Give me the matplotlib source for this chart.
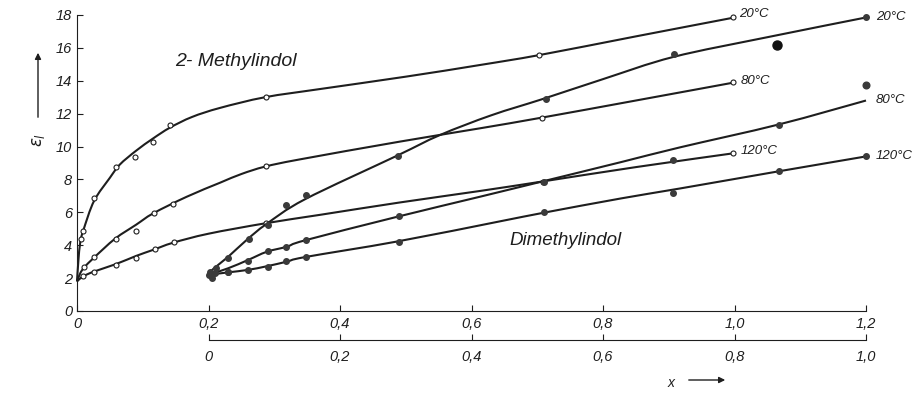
#!/usr/bin/env python3
import numpy as np
import matplotlib
matplotlib.use("Agg")
import matplotlib.pyplot as plt
from matplotlib.path import Path
from matplotlib.patches import PathPatch, FancyArrowPatch
from matplotlib.ticker import FuncFormatter

# 2-Methylindol (upper x axis), curves and open-circle measurements
m20_cx = [0, 0.002, 0.005, 0.01, 0.026, 0.05, 0.065, 0.09, 0.116, 0.1414, 0.175, 0.2175, 0.286, 0.37, 0.5, 0.613, 0.704, 0.85, 1.0]
m20_cy = [1.8, 3.0, 4.2, 4.95, 6.7, 8.1, 8.9, 9.75, 10.5, 11.15, 11.8, 12.35, 13.0, 13.5, 14.25, 14.96, 15.57, 16.7, 17.85]
m20_px = [0.006, 0.009, 0.026, 0.059, 0.088, 0.115, 0.141, 0.287, 0.703, 0.998]
m20_py = [4.4, 4.85, 6.85, 8.75, 9.35, 10.3, 11.3, 13.0, 15.55, 17.9]

m80_cx = [0, 0.005, 0.011, 0.026, 0.058, 0.09, 0.116, 0.167, 0.2175, 0.25, 0.286, 0.339, 0.491, 0.613, 0.707, 0.85, 1.0]
m80_cy = [1.8, 2.3, 2.65, 3.25, 4.4, 5.25, 5.94, 6.95, 7.8, 8.33, 8.78, 9.22, 10.3, 11.11, 11.76, 12.8, 13.9]
m80_px = [0.011, 0.026, 0.059, 0.09, 0.117, 0.146, 0.287, 0.707, 0.998]
m80_py = [2.7, 3.3, 4.4, 4.85, 5.95, 6.5, 8.8, 11.76, 13.9]

m120_cx = [0, 0.009, 0.026, 0.059, 0.09, 0.116, 0.146, 0.2, 0.286, 0.37, 0.491, 0.613, 0.707, 0.85, 1.0]
m120_cy = [1.8, 2.1, 2.4, 2.85, 3.35, 3.72, 4.15, 4.7, 5.33, 5.85, 6.6, 7.3, 7.87, 8.75, 9.6]
m120_px = [0.009, 0.026, 0.059, 0.09, 0.119, 0.148, 0.287, 0.709, 0.998]
m120_py = [2.1, 2.4, 2.8, 3.2, 3.75, 4.2, 5.35, 7.85, 9.6]

# Dimethylindol (lower x axis), curves and filled measurements
d20_cx = [0, 0.007, 0.03, 0.058, 0.0885, 0.147, 0.286, 0.352, 0.43, 0.509, 0.6, 0.707, 0.85, 1.0]
d20_cy = [2.2, 2.55, 3.3, 4.32, 5.3, 6.8, 9.43, 10.7, 11.9, 12.9, 14.1, 15.45, 16.65, 17.85]
d20_px = [0.0, 0.005, 0.01, 0.003, 0.012, 0.03, 0.062, 0.09, 0.118, 0.148, 0.288, 0.513, 0.708, 1.0]
d20_py = [2.2, 2.0, 2.3, 2.4, 2.6, 3.2, 4.4, 5.2, 6.45, 7.05, 9.4, 12.9, 15.6, 17.9]
d20_out_x = [0.864]
d20_out_y = [16.2]

d80_cx = [0, 0.03, 0.06, 0.0885, 0.119, 0.147, 0.286, 0.413, 0.51, 0.628, 0.717, 0.868, 1.0]
d80_cy = [2.2, 2.6, 3.1, 3.6, 3.91, 4.3, 5.72, 6.95, 7.9, 9.06, 9.95, 11.35, 12.8]
d80_px = [0.03, 0.06, 0.09, 0.118, 0.148, 0.29, 0.51, 0.707, 0.868]
d80_py = [2.4, 3.05, 3.65, 3.9, 4.3, 5.75, 7.85, 9.2, 11.3]
d80_out_x = [1.0]
d80_out_y = [13.75]

d120_cx = [0, 0.03, 0.06, 0.0885, 0.119, 0.147, 0.286, 0.443, 0.509, 0.628, 0.717, 0.868, 1.0]
d120_cy = [2.2, 2.35, 2.5, 2.72, 3.0, 3.28, 4.22, 5.45, 5.97, 6.85, 7.45, 8.5, 9.4]
d120_px = [0.03, 0.06, 0.09, 0.118, 0.148, 0.29, 0.51, 0.707, 0.868, 1.0]
d120_py = [2.4, 2.5, 2.7, 3.06, 3.27, 4.22, 6.0, 7.16, 8.5, 9.4]

upper_ticks = [0, 0.2, 0.4, 0.6, 0.8, 1.0, 1.2]
lower_ticks = [0, 0.2, 0.4, 0.6, 0.8, 1.0]
y_ticks = [0, 2, 4, 6, 8, 10, 12, 14, 16, 18]

ink = "#1e1e1e"
plt.rcParams["font.family"] = ["Liberation Sans", "DejaVu Sans"]
plt.rcParams["font.style"] = "italic"


def smooth_path(xs, ys):
    # Catmull-Rom through the read nodes, drawn as cubic Bezier segments
    p = np.column_stack([xs, ys]).astype(float)
    ext = np.vstack([p[0], p, p[-1]])
    verts = [p[0]]
    codes = [Path.MOVETO]
    for i in range(1, len(ext) - 2):
        c1 = ext[i] + (ext[i + 1] - ext[i - 1]) / 6
        c2 = ext[i + 1] - (ext[i + 2] - ext[i]) / 6
        verts += [c1, c2, ext[i + 1]]
        codes += [Path.CURVE4] * 3
    return Path(verts, codes)


W, H = 922, 399
fig = plt.figure(figsize=(W / 100, H / 100), dpi=100)
left, right = 77 / W, 866 / W
bottom, top = 1 - 311 / H, 1 - 15 / H
ax = fig.add_axes([left, bottom, right - left, top - bottom])
ax.set_xlim(0, 1.2)
ax.set_ylim(0, 18)

# second axes shifted by 0.2 on the upper scale, carries the lower x scale
w = right - left
ax2 = fig.add_axes([left + w * 0.2 / 1.2, bottom, w / 1.2, top - bottom])
ax2.set_xlim(0, 1.0)
ax2.set_ylim(0, 18)
ax2.patch.set_visible(False)

comma = FuncFormatter(lambda v, p: "0" if v == 0 else f"{v:.1f}".replace(".", ","))

for a in (ax, ax2):
    for s in ("top", "right"):
        a.spines[s].set_visible(False)
    a.tick_params(direction="in", length=4, width=0.8, colors=ink, labelsize=10.5)

ax.spines["left"].set_color(ink)
ax.spines["bottom"].set_color(ink)
ax.set_xticks(upper_ticks)
ax.set_yticks(y_ticks)
ax.xaxis.set_major_formatter(comma)
ax.tick_params(axis="x", pad=4)

ax2.spines["left"].set_visible(False)
ax2.spines["bottom"].set_position(("outward", 21))
ax2.spines["bottom"].set_color(ink)
ax2.set_xticks(lower_ticks)
ax2.set_yticks([])
ax2.xaxis.set_major_formatter(comma)
ax2.tick_params(axis="x", pad=7)

lw = 1.5
for cx, cy, px, py in [(m20_cx, m20_cy, m20_px, m20_py),
                       (m80_cx, m80_cy, m80_px, m80_py),
                       (m120_cx, m120_cy, m120_px, m120_py)]:
    ax.add_patch(PathPatch(smooth_path(cx, cy), fill=False, ec=ink, lw=lw, clip_on=False))
    ax.plot(px, py, "o", ms=3.6, mfc="white", mec=ink, mew=0.8, clip_on=False)

for cx, cy, px, py in [(d20_cx, d20_cy, d20_px, d20_py),
                       (d80_cx, d80_cy, d80_px, d80_py),
                       (d120_cx, d120_cy, d120_px, d120_py)]:
    ax2.add_patch(PathPatch(smooth_path(cx, cy), fill=False, ec=ink, lw=lw, clip_on=False))
    ax2.plot(px, py, "o", ms=4.0, color="#3a3a3a", clip_on=False)

ax2.plot(d20_out_x, d20_out_y, "o", ms=6.5, color="#111111", clip_on=False)
ax2.plot(d80_out_x, d80_out_y, "o", ms=4.8, color="#3a3a3a", clip_on=False)

lab = dict(fontsize=9.5, color=ink, va="center", ha="left")
ax.text(1.007, 18.05, "20°C", **lab)
ax.text(1.01, 14.0, "80°C", **lab)
ax.text(1.01, 9.7, "120°C", **lab)
ax.text(1.215, 17.9, "20°C", clip_on=False, **lab)
ax.text(1.215, 12.85, "80°C", clip_on=False, **lab)
ax.text(1.215, 9.43, "120°C", clip_on=False, **lab)

ax.text(0.149, 15.15, "2- Methylindol", fontsize=14, color=ink, va="center")
ax.text(0.657, 4.3, "Dimethylindol", fontsize=13.5, color=ink, va="center")

# axis captions with arrows, placed in figure pixels
fig.text(38 / W, 1 - 140 / H, r"$\varepsilon_l$", rotation=90, fontsize=12,
         color=ink, ha="center", va="center")
fig.add_artist(FancyArrowPatch(
    (38 / W, 1 - 120 / H), (38 / W, 1 - 50 / H), transform=fig.transFigure,
    arrowstyle="-|>", mutation_scale=9, lw=1.0, color=ink))
fig.text(671 / W, 1 - 383 / H, "x", fontsize=10, color=ink, ha="center", va="center")
fig.add_artist(FancyArrowPatch(
    (686 / W, 1 - 380 / H), (728 / W, 1 - 380 / H), transform=fig.transFigure,
    arrowstyle="-|>", mutation_scale=9, lw=1.0, color=ink))

fig.savefig("out.png", dpi=100, facecolor="white")
